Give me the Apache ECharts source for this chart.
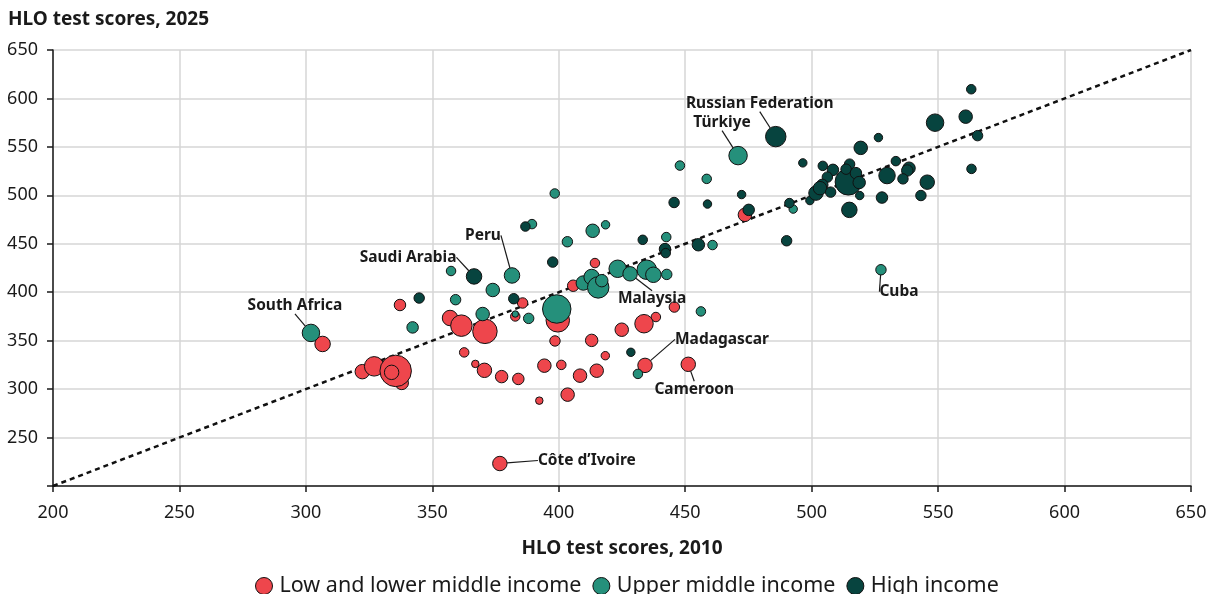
<!DOCTYPE html>
<html>
<head>
<meta charset="utf-8">
<script src="https://cdn.jsdelivr.net/npm/echarts@6/dist/echarts.min.js"></script>
<style>
  html, body { margin: 0; padding: 0; background: #fff; }
  #chart { width: 1216px; height: 594px; }
</style>
</head>
<body>
<div id="chart"></div>
<script>
// [score 2010, score 2025, weight (bubble size), name]
const lowIncome = [
  [306.6, 346.6, 49], [337.2, 386.8, 25], [385.7, 388.9, 20], [357, 373.4, 49],
  [361.5, 365.5, 100], [370.8, 359.6, 132], [382.8, 375, 16], [362.6, 337.9, 16],
  [367, 326, 9], [370.6, 319.4, 42], [377.4, 312.9, 30], [384, 310.5, 25],
  [322.3, 318, 42], [327, 323.5, 81], [337.9, 306.4, 36], [335.5, 318.8, 225],
  [333.9, 317.3, 42], [399.6, 371, 121], [398.5, 349.7, 20], [394.3, 324.2, 36],
  [401, 325, 16], [392.3, 288.1, 9], [403.5, 294.3, 36], [408.4, 313.9, 36],
  [413, 350.3, 30], [418.4, 334.5, 12], [434.1, 324.5, 42, 'Madagascar'],
  [451.2, 325.6, 42, 'Cameroon'], [415, 319, 36], [376.7, 223.2, 42, 'Côte d\u2019Ivoire'],
  [414.3, 430.1, 16], [405.7, 406.7, 25], [434.5, 421, 20], [445.7, 384.7, 20],
  [438.4, 374.4, 16], [433.7, 367.5, 72], [424.9, 361.3, 36], [473.6, 479.9, 36]
];
const upperMiddle = [
  [302, 358, 64, 'South Africa'], [342.2, 363.7, 25], [357.4, 421.9, 16],
  [381.5, 417.3, 49, 'Peru'], [373.9, 402.3, 36], [359.2, 392.3, 20], [369.9, 377.5, 36],
  [382.8, 377.5, 6], [388.1, 373, 20], [399.2, 382.7, 182], [398.4, 501.9, 16],
  [389.4, 470.3, 16], [403.4, 452.1, 20], [413.4, 463.4, 36], [418.5, 469.6, 12],
  [409.7, 409.5, 42], [413, 415.7, 49], [415.6, 405, 100], [417, 411.9, 30],
  [423.3, 424.2, 64], [428.2, 419, 42, 'Malaysia'], [434.8, 423.2, 81], [437.4, 418, 49],
  [442.7, 418.4, 20], [442.5, 456.9, 16], [460.8, 448.7, 16], [456.2, 380.2, 16],
  [431.3, 315.7, 16], [447.9, 530.7, 16], [458.5, 517, 16], [470.9, 541, 72, 'Türkiye'],
  [492.7, 485.8, 12], [527.4, 423.2, 20, 'Cuba']
];
const highIncome = [
  [514.5, 513.9, 156], [344.8, 394, 20], [366.5, 416.3, 49, 'Saudi Arabia'],
  [382.2, 393.3, 20], [386.8, 467.8, 16], [397.6, 431.1, 20], [428.5, 338, 12],
  [433.2, 454.1, 16], [442, 444.5, 25], [442.3, 440.4, 16], [455.2, 449, 30],
  [445.6, 492.6, 20], [458.8, 491, 12], [485.8, 560.6, 90, 'Russian Federation'],
  [472.3, 500.8, 12], [475.1, 485, 25], [496.5, 533.5, 12], [504.4, 530.4, 16],
  [508.4, 526.3, 25], [491.2, 492, 16], [499.3, 494.6, 12], [501.7, 502.3, 42],
  [526.4, 559.6, 12], [519.4, 549, 36], [515, 532.2, 20], [513.6, 527, 20],
  [517.5, 522.9, 25], [506.2, 518.8, 20], [504.2, 510.8, 25], [503.3, 507.4, 36],
  [518.8, 513.2, 30], [507.5, 503.3, 20], [519, 499.8, 12], [514.9, 485, 49],
  [527.8, 497.7, 25], [529.8, 520.4, 56], [533.3, 535.3, 16], [538.5, 528, 30],
  [537.8, 525.6, 25], [536.1, 517, 20], [545.7, 513.6, 42], [543.2, 499.8, 20],
  [548.8, 575, 64], [560.9, 581.2, 36], [563.1, 609.5, 16], [565.6, 561.6, 20],
  [563.2, 527.3, 16], [490.1, 453.1, 20]
];
const parity = [200, 650];
const ticks = [200, 250, 300, 350, 400, 450, 500, 550, 600, 650];

// where each country label sits, relative to its bubble
const labelOffsets = {
  'South Africa': [-16, -27], 'Saudi Arabia': [-66, -19], 'Peru': [-29, -40],
  'Malaysia': [22, 25], 'Russian Federation': [-16, -33], 'Türkiye': [-16, -33],
  'Madagascar': [77, -26], 'Cameroon': [6, 25], 'Cuba': [18, 22],
  'Côte d\u2019Ivoire': [87, -3]
};

const font = 'Noto Sans';
const ink = '#1a1a1a';

function toItems(arr) {
  return arr.map(d => {
    const item = { value: [d[0], d[1], d[2]] };
    if (d[3]) {
      item.name = d[3];
      item.label = { show: true };
      item.labelLine = { show: true };
    }
    return item;
  });
}

function scatter(name, color, arr) {
  return {
    name: name,
    type: 'scatter',
    data: toItems(arr),
    symbolSize: v => 2 * Math.sqrt(v[2]) + 1.5,
    itemStyle: { color: color, borderColor: '#111', borderWidth: 1, opacity: 1 },
    emphasis: { disabled: true },
    label: {
      show: false, position: 'inside', formatter: p => p.name,
      fontFamily: font, fontSize: 15.5, fontWeight: 'bold', color: ink
    },
    labelLine: { show: false, lineStyle: { color: ink, width: 1.2 } },
    labelLayout: p => {
      const o = labelOffsets[p.text];
      return o ? { dx: o[0], dy: o[1] } : {};
    },
    z: 3
  };
}

const chart = echarts.init(document.getElementById('chart'));
chart.setOption({
  animation: false,
  title: {
    text: 'HLO test scores, 2025', left: 3, top: 5,
    textStyle: { fontFamily: font, fontSize: 19, fontWeight: 'bold', color: ink }
  },
  legend: {
    top: 570, left: 250, icon: 'circle', itemWidth: 17, itemHeight: 17, itemGap: 11,
    data: ['Low and lower middle income', 'Upper middle income', 'High income'],
    itemStyle: { borderColor: '#111', borderWidth: 1 },
    textStyle: { fontFamily: font, fontSize: 21.5, color: ink, padding: [0, 0, 0, 2] }
  },
  grid: { left: 53, right: 25, top: 50, bottom: 108 },
  xAxis: {
    type: 'value', min: ticks[0], max: ticks[ticks.length - 1], interval: 50,
    name: 'HLO test scores, 2010', nameLocation: 'middle', nameGap: 53,
    nameTextStyle: { fontFamily: font, fontSize: 19, fontWeight: 'bold', color: ink },
    axisLine: { show: true, onZero: false, lineStyle: { color: ink, width: 1.5 } },
    axisTick: { show: true, length: 6, lineStyle: { color: ink, width: 1.5 } },
    axisLabel: { fontFamily: font, fontSize: 18, color: ink, margin: 18 },
    splitLine: { show: true, lineStyle: { color: '#d6d6d6', width: 1.5 } }
  },
  yAxis: {
    type: 'value', min: ticks[0], max: ticks[ticks.length - 1], interval: 50,
    axisLine: { show: true, onZero: false, lineStyle: { color: ink, width: 1.5 } },
    axisTick: { show: true, length: 6, lineStyle: { color: ink, width: 1.5 } },
    axisLabel: {
      fontFamily: font, fontSize: 18, color: ink, margin: 15,
      formatter: v => (v === ticks[0] ? '' : String(v))
    },
    splitLine: { show: true, lineStyle: { color: '#d6d6d6', width: 1.5 } }
  },
  series: [
    {
      type: 'line', data: [[parity[0], parity[0]], [parity[1], parity[1]]],
      symbol: 'none', silent: true, z: 2,
      lineStyle: { color: '#111', width: 2.5, type: [5, 4] }
    },
    scatter('Low and lower middle income', '#ee464c', lowIncome),
    scatter('Upper middle income', '#25907b', upperMiddle),
    scatter('High income', '#07443f', highIncome)
  ]
});
window.addEventListener('resize', function () { chart.resize(); });
</script>
</body>
</html>
